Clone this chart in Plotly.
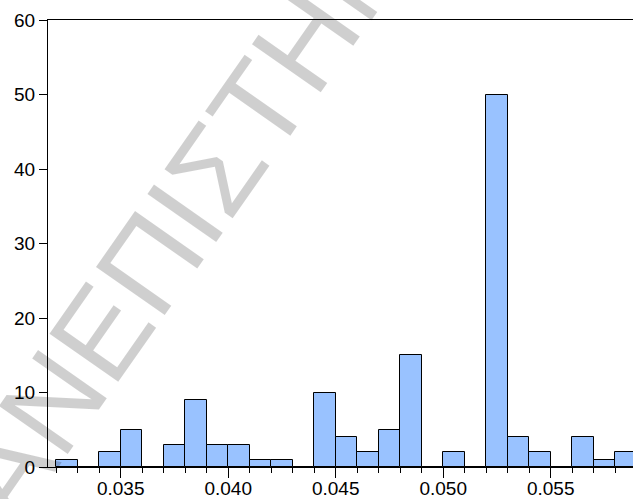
import plotly.graph_objects as go

# Histogram counts, one per bin of width 0.001 starting at 0.032
bin_start = 0.032
bin_width = 0.001
counts = [1, 0, 2, 5, 0, 3, 9, 3, 3, 1, 1, 0, 10, 4, 2, 5, 15, 0, 2, 0, 50, 4, 2, 0, 4, 1, 2]

x_tick_vals = [0.035, 0.040, 0.045, 0.050, 0.055]
x_tick_text = ["0.035", "0.040", "0.045", "0.050", "0.055"]
y_tick_vals = [0, 10, 20, 30, 40, 50, 60]

watermark = "ΠΑΝΕΠΙΣΤΗΜΙΟ"

centers = [bin_start + bin_width * (i + 0.5) for i in range(len(counts))]

fig = go.Figure(
    go.Bar(
        x=centers,
        y=counts,
        width=bin_width,
        marker=dict(color="#99C2FF", line=dict(color="black", width=1)),
    )
)

font = dict(family="Liberation Sans, Arial, sans-serif", size=19, color="black")

fig.update_layout(
    width=633,
    height=499,
    margin=dict(l=48, r=0, t=20, b=32),
    plot_bgcolor="white",
    paper_bgcolor="white",
    showlegend=False,
    font=font,
    bargap=0,
    annotations=[
        dict(
            text=watermark,
            xref="paper",
            yref="paper",
            x=0.2547,
            y=0.6063,
            xanchor="center",
            yanchor="middle",
            textangle=-55,
            showarrow=False,
            font=dict(family="Liberation Sans, Arial, sans-serif", size=122, color="rgba(0,0,0,0.19)"),
        )
    ],
)

fig.update_xaxes(
    range=[0.031619, 0.058828],
    automargin=False,
    showline=True,
    linecolor="black",
    linewidth=1,
    mirror=True,
    showgrid=False,
    zeroline=False,
    tickmode="array",
    tickvals=x_tick_vals,
    ticktext=x_tick_text,
    ticks="outside",
    ticklen=10,
    tickcolor="black",
    tickfont=font,
    ticklabelstandoff=-6,
    minor=dict(ticks="outside", ticklen=5, tick0=bin_start, dtick=bin_width, tickcolor="black", showgrid=False),
)

fig.update_yaxes(
    range=[0, 60],
    automargin=False,
    showline=True,
    linecolor="black",
    linewidth=1,
    showgrid=False,
    zeroline=False,
    tickmode="array",
    tickvals=y_tick_vals,
    ticks="outside",
    ticklen=8,
    tickcolor="black",
    tickfont=font,
)

fig.write_html("out.html")
